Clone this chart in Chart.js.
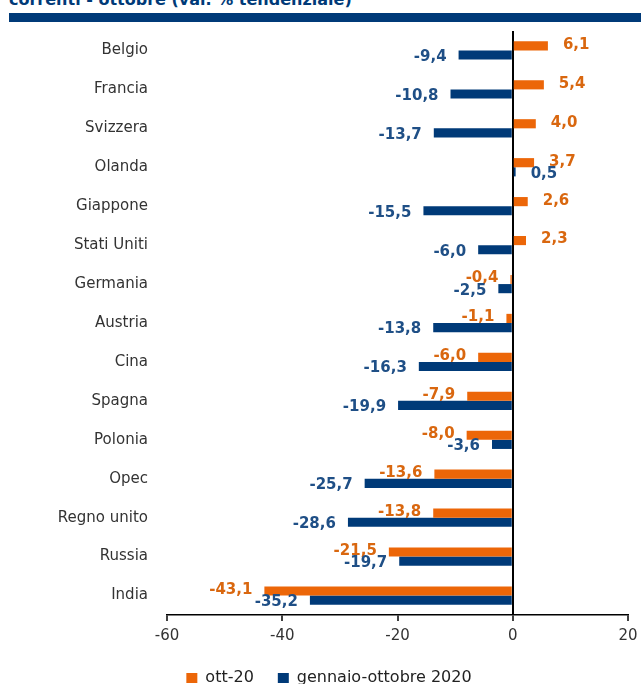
<!DOCTYPE html>
<html>
<head>
<meta charset="utf-8">
<script src="https://cdn.jsdelivr.net/npm/chart.js@4/dist/chart.umd.min.js"></script>
<style>
  html, body { margin: 0; padding: 0; background: #fff; overflow: hidden; }
  body { width: 641px; height: 684px; position: relative; font-family: "DejaVu Sans", sans-serif; }
  .title { position: absolute; left: 9px; top: -8px; font-size: 16px; line-height: 1; font-weight: bold; color: #003a78; white-space: nowrap; }
  .band { position: absolute; left: 9px; right: 0; top: 13px; height: 9px; background: #003a78; }
  #chart { position: absolute; left: 0; top: 0; }
</style>
</head>
<body>
<div class="title">correnti - ottobre (var. % tendenziale)</div>
<div class="band"></div>
<canvas id="chart" width="641" height="696"></canvas>
<script>
// dati (var. % tendenziale)
const paesi = ['Belgio','Francia','Svizzera','Olanda','Giappone','Stati Uniti','Germania','Austria','Cina','Spagna','Polonia','Opec','Regno unito','Russia','India'];
const ott20 = [6.1, 5.4, 4.0, 3.7, 2.6, 2.3, -0.4, -1.1, -6.0, -7.9, -8.0, -13.6, -13.8, -21.5, -43.1];
const genOtt = [-9.4, -10.8, -13.7, 0.5, -15.5, -6.0, -2.5, -13.8, -16.3, -19.9, -3.6, -25.7, -28.6, -19.7, -35.2];
const xTicks = [-60, -40, -20, 0, 20];

const orange = '#ec6608';
const blue   = '#003a78';
const orangeTxt = '#d9670f';
const blueTxt   = '#1f4f86';

// etichette valori (stile excel: fuori dalla fine della barra)
const valueLabels = {
  id: 'valueLabels',
  afterDatasetsDraw(chart) {
    const ctx = chart.ctx;
    ctx.save();
    ctx.font = 'bold 15px "DejaVu Sans"';
    ctx.textBaseline = 'middle';
    chart.data.datasets.forEach((ds, di) => {
      const meta = chart.getDatasetMeta(di);
      ctx.fillStyle = di === 0 ? orangeTxt : blueTxt;
      const dy = di === 0 ? -1 : 2;
      meta.data.forEach((bar, i) => {
        const v = ds.data[i];
        const txt = v.toFixed(1).replace('.', ',');
        if (v >= 0) {
          ctx.textAlign = 'left';
          ctx.fillText(txt, bar.x + 15, bar.y + dy);
        } else {
          ctx.textAlign = 'right';
          ctx.fillText(txt, bar.x - 12, bar.y + dy);
        }
      });
    });
    ctx.restore();
  }
};

new Chart(document.getElementById('chart'), {
  type: 'bar',
  data: {
    labels: paesi,
    datasets: [
      { label: 'ott-20', data: ott20, backgroundColor: orange },
      { label: 'gennaio-ottobre 2020', data: genOtt, backgroundColor: blue }
    ]
  },
  options: {
    indexAxis: 'y',
    responsive: false,
    animation: false,
    categoryPercentage: 0.47,
    barPercentage: 1.0,
    layout: { padding: { top: 31, right: 13, left: 30, bottom: 0 } },
    plugins: {
      title: { display: false },
      tooltip: { enabled: false },
      legend: {
        position: 'bottom',
        labels: {
          color: '#222',
          font: { family: '"DejaVu Sans"', size: 16 },
          boxWidth: 11,
          boxHeight: 10,
          padding: 24
        }
      }
    },
    scales: {
      x: {
        min: -60, max: 20,
        afterBuildTicks: (ax) => { ax.ticks = xTicks.map(v => ({ value: v })); },
        afterFit: (ax) => { ax.height = 31; ax.paddingLeft = 0; ax.paddingRight = 0; },
        grid: {
          color: (c) => c.tick && c.tick.value === 0 ? '#000' : 'rgba(0,0,0,0)',
          lineWidth: 2,
          tickColor: '#000',
          tickLength: 6,
          tickWidth: 1.5
        },
        border: { display: true, color: '#000', width: 1.5 },
        ticks: {
          color: '#333',
          font: { family: '"DejaVu Sans"', size: 15 },
          padding: 6
        }
      },
      y: {
        afterFit: (ax) => { ax.width = 137; },
        grid: { display: false, drawTicks: false },
        border: { display: false },
        ticks: {
          color: '#333',
          font: { family: '"DejaVu Sans"', size: 15 },
          padding: 19
        }
      }
    }
  },
  plugins: [valueLabels]
});
</script>
</body>
</html>
